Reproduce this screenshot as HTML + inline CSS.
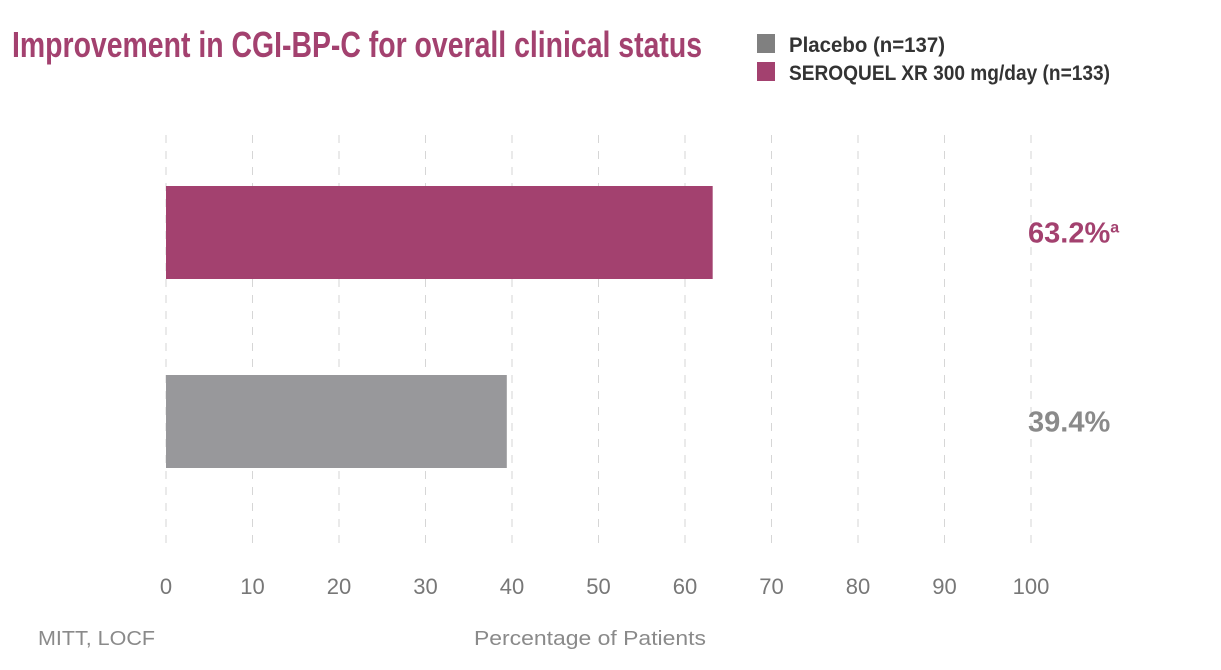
<!DOCTYPE html>
<html><head><meta charset="utf-8"><style>
html,body{margin:0;padding:0;background:#fff;}
svg{display:block;}
</style></head><body>
<svg id="chart" width="1221" height="670" viewBox="0 0 1221 670" xmlns="http://www.w3.org/2000/svg" font-family="Liberation Sans, sans-serif">
<text x="12" y="57" font-size="36" font-weight="bold" fill="#a3416f" textLength="690" lengthAdjust="spacingAndGlyphs">Improvement in CGI-BP-C for overall clinical status</text>
<g>
<rect x="757" y="34" width="18" height="19" fill="#808080"/>
<text x="789" y="52" font-size="21" font-weight="bold" fill="#333" textLength="156" lengthAdjust="spacingAndGlyphs">Placebo (n=137)</text>
<rect x="757" y="62" width="18" height="19" fill="#a3416f"/>
<text x="789" y="80" font-size="21" font-weight="bold" fill="#333" textLength="321" lengthAdjust="spacingAndGlyphs">SEROQUEL XR 300 mg/day (n=133)</text>
</g>
<g id="grid"></g>
<g id="bars"></g>
<g id="ticks"></g>
<text x="38" y="645" font-size="20" fill="#8a8a8a" textLength="117" lengthAdjust="spacingAndGlyphs">MITT, LOCF</text>
<text x="474" y="645" font-size="20" fill="#8a8a8a" textLength="232" lengthAdjust="spacingAndGlyphs">Percentage of Patients</text>
</svg>
<script>
const categories = ["SEROQUEL XR 300 mg/day", "Placebo"];
const values = [63.2, 39.4];
const valueLabels = ["63.2%", "39.4%"];
const tickValues = [0,10,20,30,40,50,60,70,80,90,100];
const colors = ["#a3416f", "#98989b"];
const labelColors = ["#a3416f", "#8a8a8a"];

const NS = "http://www.w3.org/2000/svg";
const x = v => 166 + v * 8.65;
const yTop = i => 186 + i * 189;
const barH = 93;
function mk(tag, attrs, parent){const e=document.createElementNS(NS,tag);for(const k in attrs)e.setAttribute(k,attrs[k]);document.getElementById(parent).appendChild(e);return e;}

tickValues.forEach(t=>{
  const l = mk("line",{x1:x(t),x2:x(t),y1:135,y2:550,stroke:"#d6d6d6","stroke-width":1,"stroke-dasharray":"8,8"},"grid");
  
  
  const tx = mk("text",{x:x(t),y:594,"font-size":22,fill:"#777","text-anchor":"middle"},"ticks");
  tx.textContent = t;
  
  
});
values.forEach((v,i)=>{
  const r = mk("rect",{x:x(0),y:yTop(i),width:x(v)-x(0),height:barH,fill:colors[i]},"bars");
  
  
  const t = mk("text",{x:1028,y:yTop(i)+barH/2+10,"font-size":29,"font-weight":"bold",fill:labelColors[i]},"bars");
  t.textContent = valueLabels[i];
  if(i===0){const s=document.createElementNS(NS,"tspan");s.setAttribute("font-size","16");s.setAttribute("dy","-10");s.textContent="a";t.appendChild(s);}
  
  
});
</script>
</body></html>
